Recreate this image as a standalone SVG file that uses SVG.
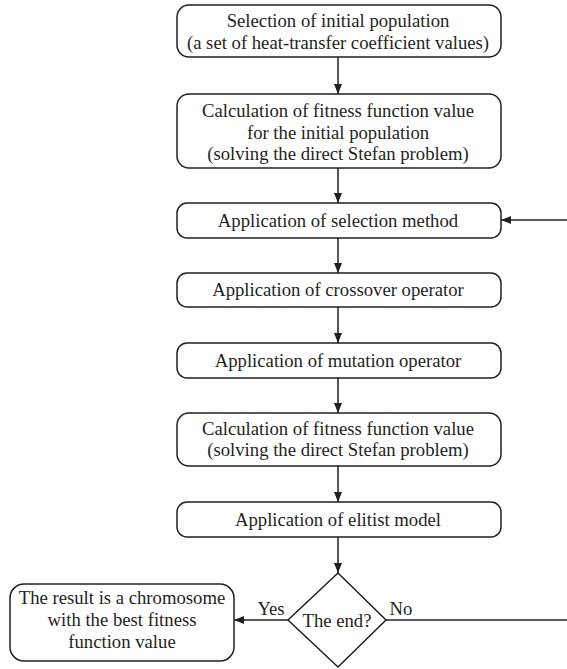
<svg xmlns="http://www.w3.org/2000/svg" width="567" height="669" viewBox="0 0 567 669">
<style>
.box{fill:#fff;stroke:#231f20;stroke-width:1.5}
.t{font-family:"Liberation Serif","Times New Roman",serif;font-size:18.7px;fill:#231f20;text-anchor:middle}
.c{fill:none;stroke:#231f20;stroke-width:1.5}
</style>
<defs>
<marker id="ah" viewBox="0 0 10 8" refX="10" refY="4" markerWidth="10" markerHeight="8" markerUnits="userSpaceOnUse" orient="auto">
<path d="M0,0 L10,4 L0,8 Z" fill="#231f20"/>
</marker>
</defs>
<rect width="567" height="669" fill="#fff"/>
<g id="connectors">
<line class="c" x1="338" y1="57" x2="338" y2="94" marker-end="url(#ah)"/>
<line class="c" x1="338" y1="168" x2="338" y2="203" marker-end="url(#ah)"/>
<line class="c" x1="567" y1="220" x2="501" y2="220" marker-end="url(#ah)"/>
<line class="c" x1="338" y1="238" x2="338" y2="273" marker-end="url(#ah)"/>
<line class="c" x1="338" y1="307" x2="338" y2="343" marker-end="url(#ah)"/>
<line class="c" x1="338" y1="378" x2="338" y2="413" marker-end="url(#ah)"/>
<line class="c" x1="338" y1="466" x2="338" y2="502" marker-end="url(#ah)"/>
<line class="c" x1="338" y1="537" x2="338" y2="573" marker-end="url(#ah)"/>
<line class="c" x1="288" y1="620" x2="234" y2="620" marker-end="url(#ah)"/>
<line class="c" x1="386" y1="620" x2="567" y2="620"/>
</g>
<g id="n1"><rect class="box" x="177" y="5" width="324" height="52" rx="12"/>
<text class="t" x="338" y="27">Selection of initial population</text>
<text class="t" x="338" y="49">(a set of heat-transfer coefficient values)</text></g>
<g id="n2"><rect class="box" x="177" y="94" width="324" height="74" rx="12"/>
<text class="t" x="338" y="117">Calculation of fitness function value</text>
<text class="t" x="338" y="139">for the initial population</text>
<text class="t" x="338" y="160">(solving the direct Stefan problem)</text></g>
<g id="n3"><rect class="box" x="177" y="203" width="324" height="35" rx="10"/>
<text class="t" x="338" y="227">Application of selection method</text></g>
<g id="n4"><rect class="box" x="177" y="273" width="324" height="34" rx="10"/>
<text class="t" x="338" y="296">Application of crossover operator</text></g>
<g id="n5"><rect class="box" x="177" y="343" width="324" height="35" rx="10"/>
<text class="t" x="338" y="367">Application of mutation operator</text></g>
<g id="n6"><rect class="box" x="177" y="413" width="324" height="53" rx="12"/>
<text class="t" x="338" y="435">Calculation of fitness function value</text>
<text class="t" x="338" y="456">(solving the direct Stefan problem)</text></g>
<g id="n7"><rect class="box" x="177" y="502" width="324" height="35" rx="10"/>
<text class="t" x="338" y="526">Application of elitist model</text></g>
<g id="n8"><polygon class="box" points="338,573 386,620 338,667 288,620"/>
<text class="t" x="337" y="627">The end?</text></g>
<g id="n9"><rect class="box" x="10" y="584" width="224" height="77" rx="14"/>
<text class="t" x="122" y="604">The result is a chromosome</text>
<text class="t" x="122" y="626">with the best fitness</text>
<text class="t" x="122" y="648">function value</text></g>
<text class="t" x="271" y="615">Yes</text>
<text class="t" x="401" y="615">No</text>
</svg>
